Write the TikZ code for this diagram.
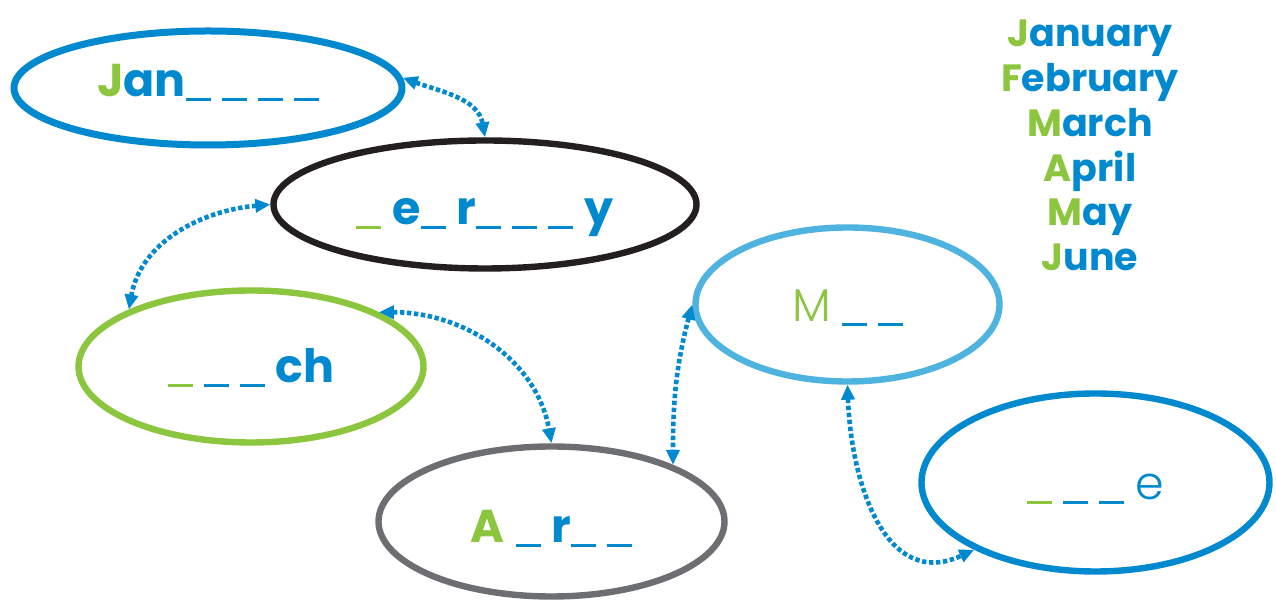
\documentclass[tikz,border=0pt]{standalone}
\usepackage{fontspec}
\setmainfont{Poppins}
\newfontfamily\thinfont{Poppins Light}
\usetikzlibrary{shapes.geometric,arrows.meta}
\definecolor{mblue}{HTML}{0089CF}
\definecolor{mgreen}{HTML}{8CC63F}
\definecolor{mblack}{HTML}{231F20}
\definecolor{mgray}{HTML}{6D6E71}
\definecolor{mlight}{HTML}{4FB3E0}
\newcommand{\blank}[1][mblue]{\textcolor{#1}{\rule[-2pt]{12.5pt}{1.6pt}}}
\newcommand{\gap}{\hspace{5.5pt}}
\begin{document}
\begin{tikzpicture}[x=0.5pt,y=0.5pt,
  month/.style={ellipse,draw,line width=3.2pt,inner sep=0pt,text=mblue,text depth=3pt,
    font=\fontsize{23}{27}\selectfont\bfseries},
  link/.style={mblue,line width=2.3pt,dash pattern=on 2.2pt off 1.3pt,
    {Triangle[length=7.5pt,width=6.5pt]}-{Triangle[length=7.5pt,width=6.5pt]}},
  listtext/.style={font=\fontsize{19}{23}\selectfont\bfseries,text=mblue,inner sep=0pt}]
\useasboundingbox (0,0) rectangle (1276,604);

% The six ellipses
\node[month,draw=mblue,line width=3.5pt,minimum width=194pt,minimum height=57pt,text height=12pt] (jan) at (208,516)
  {\textcolor{mgreen}{J}an\blank\gap\blank\gap\blank\gap\blank};
\node[month,draw=mblack,minimum width=211.5pt,minimum height=64pt,text height=23.5pt] (feb) at (485,399.5)
  {\blank[mgreen]\gap e\blank\gap r\blank\gap\blank\gap\blank\gap y};
\node[month,draw=mgreen,minimum width=172.5pt,minimum height=76pt,text height=19.5pt] (mar) at (251,237.5)
  {\blank[mgreen]\gap\blank\gap\blank\gap ch};
\node[month,draw=mgray,minimum width=173pt,minimum height=75pt,text height=24.5pt] (apr) at (551.5,82.5)
  {\textcolor{mgreen}{A}\gap\blank\gap r\blank\gap\blank};
\node[month,draw=mlight,minimum width=152pt,minimum height=77pt,text height=20.5pt] (may) at (847.5,299.5)
  {\textcolor{mgreen}{\thinfont\mdseries M}\gap\blank\gap\blank};
\node[month,draw=mblue,minimum width=174pt,minimum height=89pt,text height=20.5pt] (jun) at (1095.5,121.5)
  {\blank[mgreen]\gap\blank\gap\blank\gap{\thinfont\mdseries e}};

% Dotted links
\draw[link] (jan.3) to[out=-20,in=100] (feb.north);
\draw[link] (feb.west) to[out=185,in=80] (mar.155);
\draw[link] (mar.23) to[out=0,in=100] (apr.north);
\draw[link] (may.west) to[out=255,in=90] (apr.25);
\draw[link] (may.south) to[out=-88,in=205,looseness=1.2] (jun.209);

% Month list
\foreach \first/\rest [count=\i] in {J/anuary,F/ebruary,M/arch,A/pril,M/ay,J/une}
  \node[listtext,anchor=base] (list\i) at (1090,{557-44.7*(\i-1)}) {\textcolor{mgreen}{\first}\rest};

\end{tikzpicture}
\end{document}
